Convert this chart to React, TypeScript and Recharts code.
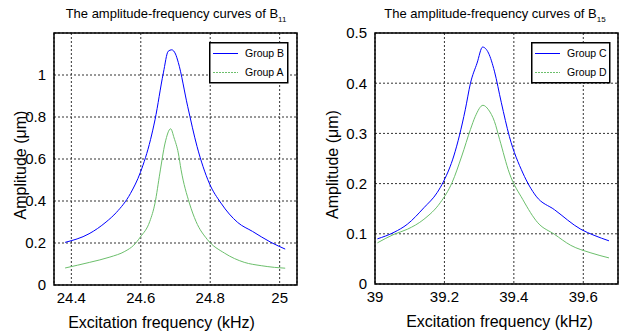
import React from 'react';
import { LineChart, Line, XAxis, YAxis, CartesianGrid, ReferenceArea, Legend } from 'recharts';

// panel B11
const b11FreqTicks = [24.4, 24.6, 24.8, 25];
const b11AmpTicks = [0, 0.2, 0.4, 0.6, 0.8, 1];
const groupBFreq = [24.382, 24.451, 24.5, 24.53, 24.57, 24.599, 24.628, 24.641, 24.665, 24.679, 24.689, 24.7, 24.708, 24.735, 24.762, 24.797, 24.831, 24.879, 24.922, 24.975, 25.016];
const groupBAmp = [0.203, 0.244, 0.3, 0.346, 0.435, 0.537, 0.692, 0.787, 1.01, 1.113, 1.12, 1.1, 1.06, 0.851, 0.66, 0.486, 0.39, 0.298, 0.255, 0.203, 0.171];
const groupAFreq = [24.382, 24.453, 24.511, 24.554, 24.58, 24.599, 24.626, 24.641, 24.655, 24.67, 24.686, 24.696, 24.708, 24.716, 24.74, 24.759, 24.792, 24.841, 24.898, 24.947, 24.985, 25.016];
const groupAAmp = [0.081, 0.108, 0.133, 0.16, 0.19, 0.229, 0.303, 0.39, 0.533, 0.676, 0.744, 0.7, 0.629, 0.549, 0.39, 0.303, 0.216, 0.152, 0.108, 0.092, 0.084, 0.08];

// panel B15
const b15FreqTicks = [39, 39.2, 39.4, 39.6];
const b15AmpTicks = [0, 0.1, 0.2, 0.3, 0.4, 0.5];
const groupCFreq = [39.007, 39.055, 39.093, 39.141, 39.179, 39.198, 39.227, 39.26, 39.275, 39.294, 39.31, 39.327, 39.344, 39.364, 39.387, 39.426, 39.464, 39.517, 39.593, 39.631, 39.674];
const groupCAmp = [0.09, 0.103, 0.119, 0.152, 0.182, 0.205, 0.255, 0.347, 0.4, 0.44, 0.472, 0.46, 0.424, 0.361, 0.294, 0.221, 0.175, 0.148, 0.109, 0.097, 0.086];
const groupDFreq = [39.007, 39.055, 39.093, 39.141, 39.188, 39.222, 39.25, 39.275, 39.289, 39.311, 39.327, 39.344, 39.359, 39.387, 39.426, 39.469, 39.517, 39.564, 39.622, 39.674];
const groupDAmp = [0.082, 0.099, 0.109, 0.129, 0.162, 0.202, 0.255, 0.308, 0.334, 0.356, 0.347, 0.324, 0.288, 0.221, 0.168, 0.122, 0.099, 0.077, 0.062, 0.052];

const FONT = '"Liberation Sans", Arial, sans-serif';
const BLUE = '#0000ff';
const GREEN = '#6cbf6c';

const toPoints = (f: number[], a: number[]) => f.map((x, i) => ({ f: x, a: a[i] }));

function LegendBox({ names }: { names: string[] }) {
  return (
    <svg width={80} height={42} style={{ display: 'block' }}>
      <rect x={0.75} y={0.75} width={78} height={40} fill="#fff" stroke="#000" strokeWidth={1.5} />
      <line x1={4} x2={29} y1={11.5} y2={11.5} stroke={BLUE} strokeWidth={1} />
      <line x1={4} x2={29} y1={30.5} y2={30.5} stroke={GREEN} strokeWidth={1} strokeDasharray="2 1" />
      <text x={36} y={15} fontSize={10.5} fontFamily={FONT} fill="#000">{names[0]}</text>
      <text x={36} y={34} fontSize={10.5} fontFamily={FONT} fill="#000">{names[1]}</text>
    </svg>
  );
}

const yLabel = (shiftX: number) => (props: any) => {
  const { viewBox } = props;
  const cx = viewBox.x + shiftX;
  const cy = viewBox.y + viewBox.height / 2 + 6;
  return (
    <text x={cx} y={cy} transform={`rotate(-90, ${cx}, ${cy})`} textAnchor="middle" dominantBaseline="central"
      fontSize={16} fontFamily={FONT} fill="#000">Amplitude (μm)</text>
  );
};

const xLabel = (shiftX: number) => (props: any) => {
  const { viewBox } = props;
  const cx = viewBox.x + viewBox.width / 2 + shiftX;
  const cy = viewBox.y + 37;
  return (
    <text x={cx} y={cy} textAnchor="middle" dominantBaseline="central" fontSize={16} fontFamily={FONT} fill="#000">
      Excitation frequency (kHz)
    </text>
  );
};

interface PanelProps {
  width: number;
  margin: { top: number; right: number; bottom: number; left: number };
  xDomain: [number, number];
  yDomain: [number, number];
  xTicks: number[];
  yTicks: number[];
  blue: { f: number; a: number }[];
  green: { f: number; a: number }[];
  names: string[];
  legendPos: { left: number; top: number };
  yLabelX: number;
  xLabelShift: number;
}

function Panel(p: PanelProps) {
  const tick = { fill: '#000', fontSize: 15, fontFamily: FONT };
  return (
    <LineChart width={p.width} height={333} margin={p.margin}>
      <CartesianGrid stroke="#333" strokeDasharray="2 2" strokeWidth={1} />
      <XAxis type="number" dataKey="f" domain={p.xDomain} ticks={p.xTicks} allowDataOverflow
        axisLine={false} tickLine={false} tickSize={0} tickMargin={7} height={40} tick={tick}
        label={{ content: xLabel(p.xLabelShift) }} />
      <YAxis type="number" dataKey="a" domain={p.yDomain} ticks={p.yTicks} allowDataOverflow
        axisLine={false} tickLine={false} tickSize={0} tickMargin={8} width={40} tick={tick}
        label={{ content: yLabel(p.yLabelX) }} />
      <ReferenceArea x1={p.xDomain[0]} x2={p.xDomain[1]} y1={p.yDomain[0]} y2={p.yDomain[1]}
        fill="none" fillOpacity={0} stroke="#000" strokeWidth={1.5} />
      <Line data={p.blue} dataKey="a" type="monotone" stroke={BLUE} strokeWidth={1} dot={false} isAnimationActive={false} />
      <Line data={p.green} dataKey="a" type="monotone" stroke={GREEN} strokeWidth={1} dot={false} isAnimationActive={false} />
      <Legend layout="horizontal" verticalAlign="middle" align="center"
        wrapperStyle={{ left: p.legendPos.left, top: p.legendPos.top, width: 80, height: 42 }}
        content={() => <LegendBox names={p.names} />} />
    </LineChart>
  );
}

const titleStyle: React.CSSProperties = {
  position: 'absolute', top: 6, fontSize: 13, fontFamily: FONT, color: '#000',
  whiteSpace: 'nowrap', transform: 'translateX(-50%)', lineHeight: '16px',
};

export default function App() {
  return (
    <div style={{ position: 'absolute', left: 0, top: 0, width: 623, height: 333, background: '#fff', overflow: 'hidden' }}>
      <div style={{ ...titleStyle, left: 176 }}>
        The amplitude-frequency curves of B<sub style={{ fontSize: 8 }}>11</sub>
      </div>
      <div style={{ ...titleStyle, left: 495 }}>
        The amplitude-frequency curves of B<sub style={{ fontSize: 8 }}>15</sub>
      </div>
      <div style={{ position: 'absolute', left: 0, top: 0 }}>
        <Panel width={311} margin={{ top: 33, right: 14, bottom: 8, left: 14 }}
          xDomain={[24.35, 25.05]} yDomain={[0, 1.2]} xTicks={b11FreqTicks} yTicks={b11AmpTicks}
          blue={toPoints(groupBFreq, groupBAmp)} green={toPoints(groupAFreq, groupAAmp)}
          names={['Group B', 'Group A']} legendPos={{ left: 209, top: 42 }} yLabelX={6} xLabelShift={-14} />
      </div>
      <div style={{ position: 'absolute', left: 311, top: 0 }}>
        <Panel width={312} margin={{ top: 33, right: 5, bottom: 9, left: 24 }}
          xDomain={[39, 39.7]} yDomain={[0, 0.5]} xTicks={b15FreqTicks} yTicks={b15AmpTicks}
          blue={toPoints(groupCFreq, groupCAmp)} green={toPoints(groupDFreq, groupDAmp)}
          names={['Group C', 'Group D']} legendPos={{ left: 219.5, top: 41.5 }} yLabelX={-3} xLabelShift={3} />
      </div>
    </div>
  );
}
